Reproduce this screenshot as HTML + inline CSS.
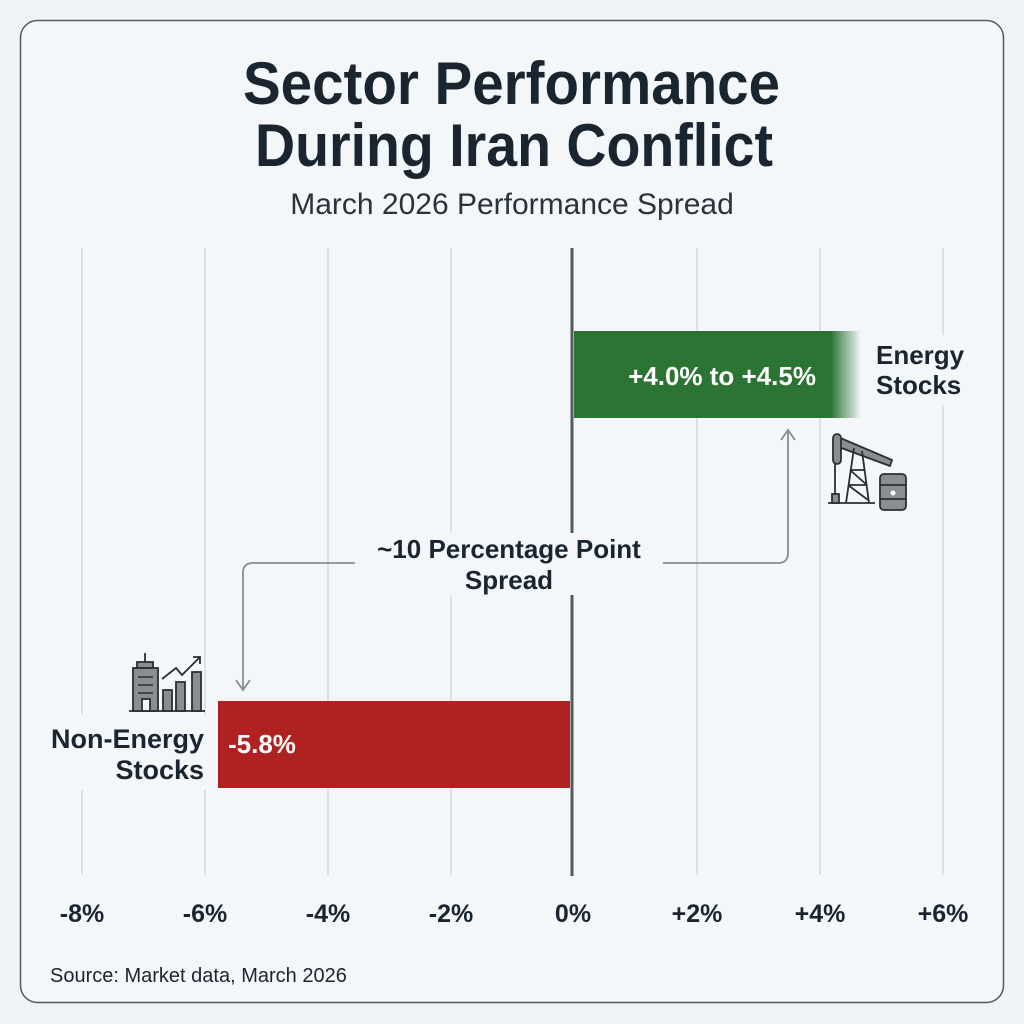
<!DOCTYPE html>
<html><head><meta charset="utf-8"><style>
html,body{margin:0;padding:0;background:#eef3f7;}
svg{display:block;font-family:"Liberation Sans",sans-serif;}
</style></head><body>
<svg width="1024" height="1024" viewBox="0 0 1024 1024" xmlns="http://www.w3.org/2000/svg">
<defs>
<linearGradient id="gf" x1="0" x2="1">
<stop offset="0" stop-color="#2c7434"/><stop offset="1" stop-color="#2c7434" stop-opacity="0"/>
</linearGradient>
</defs>
<rect width="1024" height="1024" fill="#eef3f7"/>
<rect x="20.5" y="20.5" width="983" height="982" rx="17" fill="#f3f7fa" stroke="#555a5f" stroke-width="1.5"/>
<text x="243" y="104" textLength="537" lengthAdjust="spacingAndGlyphs" font-size="60" font-weight="bold" fill="#1a2530">Sector Performance</text>
<text x="255" y="166" textLength="518" lengthAdjust="spacingAndGlyphs" font-size="60" font-weight="bold" fill="#1a2530">During Iran Conflict</text>
<text x="512" y="214" text-anchor="middle" font-size="30" fill="#2a333c">March 2026 Performance Spread</text>
<g stroke="#d6dadd" stroke-width="1.5">
<line x1="82" y1="248" x2="82" y2="875"/><line x1="205" y1="248" x2="205" y2="875"/>
<line x1="328" y1="248" x2="328" y2="875"/><line x1="451" y1="248" x2="451" y2="875"/>
<line x1="697" y1="248" x2="697" y2="875"/><line x1="820" y1="248" x2="820" y2="875"/>
<line x1="943" y1="248" x2="943" y2="875"/>
</g>
<rect x="840" y="335" width="130" height="70" fill="#f3f7fa"/>
<rect x="40" y="715" width="170" height="75" fill="#f3f7fa"/>
<line x1="572" y1="248" x2="572" y2="876" stroke="#555a5f" stroke-width="3"/>
<rect x="574" y="331" width="258" height="87" fill="#2c7434"/>
<rect x="831" y="331" width="30" height="87" fill="url(#gf)"/>
<text x="816" y="385" text-anchor="end" font-size="26" font-weight="bold" fill="#fff">+4.0% to +4.5%</text>
<text x="876" y="364" font-size="26" font-weight="bold" fill="#1a2530">Energy</text>
<text x="876" y="394" font-size="26" font-weight="bold" fill="#1a2530">Stocks</text>
<rect x="218" y="701" width="352" height="87" fill="#b02222"/>
<text x="228" y="753" font-size="26" font-weight="bold" fill="#fff">-5.8%</text>
<text x="204" y="748" text-anchor="end" font-size="27" font-weight="bold" fill="#1a2530">Non-Energy</text>
<text x="204" y="779" text-anchor="end" font-size="27" font-weight="bold" fill="#1a2530">Stocks</text>
<rect x="355" y="533" width="308" height="62" fill="#f3f7fa"/>
<text x="509" y="558" text-anchor="middle" font-size="26" font-weight="bold" fill="#1a2530">~10 Percentage Point</text>
<text x="509" y="589" text-anchor="middle" font-size="26" font-weight="bold" fill="#1a2530">Spread</text>
<g fill="none" stroke="#888d92" stroke-width="1.8">
<path d="M355 563 H253 Q243 563 243 573 V688"/>
<path d="M236 680 L243 690 L250 680"/>
<path d="M663 563 H778 Q788 563 788 553 V432"/>
<path d="M781 440 L788 430 L795 440"/>
</g>
<g stroke="#2a2f33" stroke-width="1.8" fill="#8a8e92">
<line x1="828" y1="503" x2="875" y2="503"/>
<rect x="832" y="494" width="7" height="9"/>
<line x1="835" y1="462" x2="835" y2="494"/>
<path d="M838 437 L892 460 L890 466 L836 446 Z"/>
<rect x="833" y="434" width="8" height="30" rx="4"/>
<path d="M854 448 L846 503 M862 451 L869 503 M850 470 L865 470 M848 485 L867 485 M850 470 L867 485 M848 485 L868 500" fill="none"/>
<rect x="880" y="474" width="26" height="36" rx="4"/>
<line x1="880" y1="485" x2="906" y2="485"/><line x1="880" y1="499" x2="906" y2="499"/>
<circle cx="893" cy="493" r="2.5" fill="#fff" stroke="none"/>
</g>
<g stroke="#2a2f33" stroke-width="1.8" fill="#8a8e92">
<line x1="129" y1="711" x2="205" y2="711"/>
<line x1="145" y1="653" x2="145" y2="662"/>
<rect x="137" y="662" width="16" height="6"/>
<rect x="133" y="668" width="25" height="43"/>
<rect x="142" y="699" width="8" height="12" fill="#f3f7fa"/>
<rect x="163" y="690" width="9" height="21"/>
<rect x="176" y="682" width="9" height="29"/>
<rect x="192" y="672" width="9" height="39"/>
<path d="M162 679 L176 668 L182 675 L200 657 M193 657 H200 V664" fill="none"/>
</g>
<g stroke="#2a2f33" stroke-width="1.5"><line x1="138" y1="677" x2="153" y2="677"/><line x1="138" y1="685" x2="153" y2="685"/><line x1="138" y1="693" x2="153" y2="693"/></g>
<g font-size="25" font-weight="bold" fill="#1a2530" text-anchor="middle">
<text x="82" y="922">-8%</text><text x="205" y="922">-6%</text><text x="328" y="922">-4%</text>
<text x="451" y="922">-2%</text><text x="573" y="922">0%</text><text x="697" y="922">+2%</text>
<text x="820" y="922">+4%</text><text x="943" y="922">+6%</text>
</g>
<text x="50" y="982" font-size="20" fill="#1a2530">Source: Market data, March 2026</text>
</svg>
</body></html>
